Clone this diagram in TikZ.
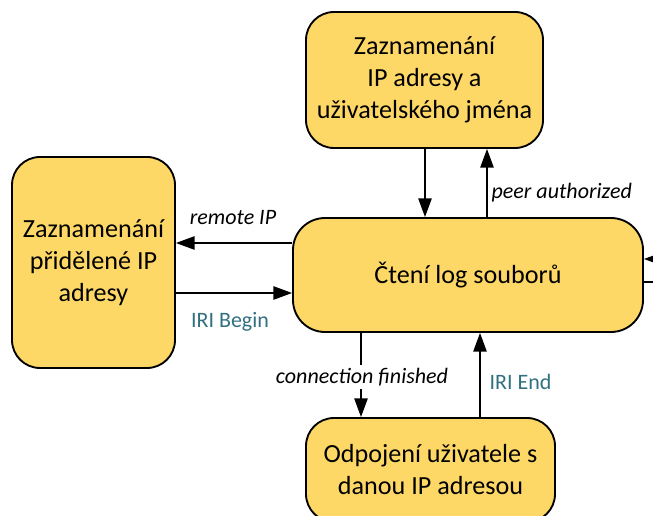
\documentclass[tikz,border=0pt]{standalone}
\usepackage{fontspec}
\setmainfont{Carlito}
\usetikzlibrary{arrows.meta}
\definecolor{boxfill}{RGB}{254,216,102}
\definecolor{teal}{RGB}{49,112,128}
\tikzset{
  statebox/.style={draw=black, line width=1.4pt, fill=boxfill, rounded corners=21pt,
    inner sep=0pt, align=center, font=\fontsize{19.6}{24}\selectfont},
  arr/.style={line width=1.1pt, -{Triangle[length=14pt,width=10pt]}},
  ln/.style={line width=1.1pt},
  lbl/.style={font=\fontsize{16.5}{19}\selectfont\itshape, inner sep=1pt},
  lblt/.style={font=\fontsize{16.5}{19}\selectfont, text=teal, inner sep=1pt}
}
\begin{document}
\begin{tikzpicture}[x=0.75pt,y=-0.75pt]
\useasboundingbox (0,0) rectangle (653,516);
\node[statebox, minimum width=237*0.75pt, minimum height=136*0.75pt] (top) at (424.5,80)
  {Zaznamenání\\ IP adresy a\\ uživatelského jména};
\node[statebox, minimum width=163*0.75pt, minimum height=211*0.75pt] (left) at (93.5,262.5)
  {Zaznamenání\\ přidělené IP\\ adresy};
\node[statebox, rounded corners=24pt, minimum width=350*0.75pt, minimum height=114*0.75pt] (ctr) at (468,275)
  {Čtení log souborů};
\node[statebox, minimum width=249*0.75pt, minimum height=104*0.75pt] (bot) at (430.5,470)
  {Odpojení uživatele s\\ danou IP adresou};
% column / row helpers
\coordinate (c425) at (425,0);
\coordinate (c487) at (487,0);
\coordinate (c361) at (361,0);
\coordinate (c480) at (480,0);
\coordinate (r243) at (0,243);
\coordinate (r293) at (0,293);
\coordinate (r259) at (0,259);
\coordinate (r282) at (0,282);
\coordinate (ein) at (656,259);
\coordinate (eout) at (656,282);
% top <-> center
\draw[arr] (top.south -| c425) -- (ctr.north -| c425);
\draw[arr] (ctr.north -| c487) -- (top.south -| c487);
\node[lbl, anchor=west] (lpeer) at (490,193) {peer authorized};
% center <-> left
\draw[arr] (ctr.west |- r243) -- (left.east |- r243);
\node[lbl] (lremote) at (233,218) {remote IP};
\draw[arr] (left.east |- r293) -- (ctr.west |- r293);
\node[lblt] (lbegin) at (230,322) {IRI Begin};
% center <-> bottom
\draw[arr] (ctr.south -| c361) -- (bot.north -| c361);
\node[lbl, fill=white, inner sep=2pt] (lconn) at (362,377) {connection finished};
\draw[arr] (bot.north -| c480) -- (ctr.south -| c480);
\node[lblt, anchor=west] (lend) at (488,382) {IRI End};
% self loop leaving on the right
\draw[arr] (ein) -- (ctr.east |- r259);
\draw[ln] (ctr.east |- r282) -- (eout);
\end{tikzpicture}
\end{document}
